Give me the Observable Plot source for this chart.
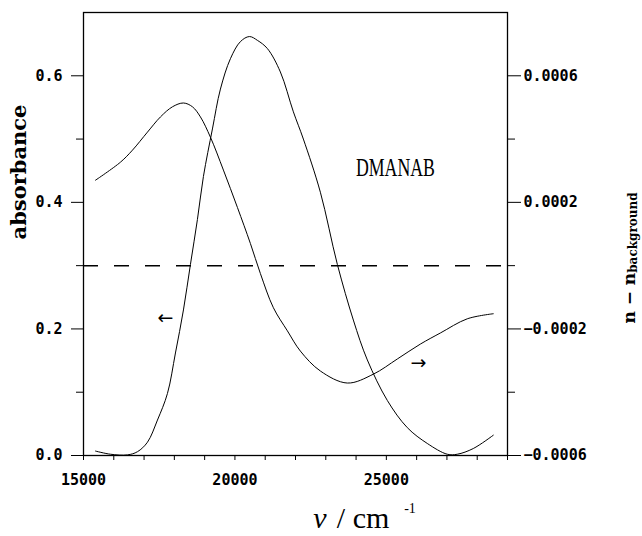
<!DOCTYPE html>
<html><head><meta charset="utf-8">
<script src="https://cdn.jsdelivr.net/npm/d3@7"></script>
<script src="https://cdn.jsdelivr.net/npm/@observablehq/plot@0.6"></script>
<style>body{margin:0;background:#fff;}</style>
</head><body><div id="chart"></div>
<script>
// absorbance spectrum (left axis)
const absWavenumber = [15396, 15891, 16452, 16782, 17112, 17442, 17772, 18036, 18300, 18531, 18762, 18960, 19257, 19521, 19851, 20181, 20478, 20742, 21072, 21501, 21930, 22260, 22821, 23382, 23910, 24372, 25032, 25692, 26352, 27012, 27342, 27870, 28530];
const absorbance = [0.007, 0.002, 0.001, 0.006, 0.021, 0.056, 0.098, 0.162, 0.230, 0.302, 0.373, 0.441, 0.516, 0.579, 0.627, 0.654, 0.662, 0.656, 0.643, 0.606, 0.543, 0.500, 0.416, 0.302, 0.214, 0.151, 0.087, 0.044, 0.019, 0.002, 0.002, 0.011, 0.032];
// n - n_background (right axis)
const nWavenumber = [15396, 16221, 16617, 17112, 17541, 17937, 18300, 18597, 18861, 19191, 19620, 20082, 20511, 20841, 21270, 21732, 22161, 22821, 23712, 24570, 25362, 26121, 26781, 27672, 28530];
const nDelta = [0.000270, 0.000327, 0.000365, 0.000422, 0.000470, 0.000502, 0.000514, 0.000502, 0.000470, 0.000406, 0.000302, 0.000184, 0.000070, -0.000025, -0.000133, -0.000206, -0.000270, -0.000333, -0.000371, -0.000343, -0.000295, -0.000248, -0.000213, -0.000168, -0.000152];
const nReference = [0];

const xTicks = [15000, 20000, 25000];
const xMinorTicks = [16000, 17000, 18000, 19000, 21000, 22000, 23000, 24000, 26000, 27000, 28000, 29000];
const leftTicks = [0, 0.2, 0.4, 0.6];
const leftMinorTicks = [0.1, 0.3, 0.5];
const rightTicks = [0.0006, 0.0002, -0.0002, -0.0006];
const rightMinorTicks = [0.0004, 0, -0.0004];

const labelNote = [{nu: 25300, a: 0.454, text: "DMANAB"}];
const arrowNotes = [{nu: 17706, a: 0.218, text: "←"}, {nu: 26056, a: 0.147, text: "→"}];

// right axis values mapped onto the absorbance scale (0.0004 per 0.2, zero at 0.3)
const toLeft = v => 0.3 + v * 500;
const fromLeft = a => (a - 0.3) / 500;

const absData = absWavenumber.map((nu, i) => ({nu, a: absorbance[i]}));
const nData = nWavenumber.map((nu, i) => ({nu, dn: nDelta[i]}));
const rf = d3.format(".4f");

const svg = Plot.plot({
  width: 642, height: 536,
  marginLeft: 83, marginRight: 135, marginTop: 12, marginBottom: 81,
  x: {domain: [15000, 29000]},
  y: {domain: [0, 0.7]},
  style: {fontFamily: "'DejaVu Sans Mono', monospace", fontSize: "15px", fontWeight: "bold", color: "black", background: "white"},
  marks: [
    Plot.axisX({ticks: xMinorTicks, tickSize: 5, tickFormat: () => "", label: null}),
    Plot.axisX({ticks: xTicks, tickSize: 5, tickPadding: 14, tickFormat: d => String(d), label: null}),
    Plot.axisY({ticks: leftMinorTicks, tickSize: 7, tickFormat: () => "", label: null}),
    Plot.axisY({ticks: leftTicks, tickSize: 12, tickPadding: 9, tickFormat: d3.format(".1f"), label: null}),
    Plot.axisY({anchor: "right", ticks: rightMinorTicks.map(toLeft), tickSize: 7, tickFormat: () => "", label: null}),
    Plot.axisY({anchor: "right", ticks: rightTicks.map(toLeft), tickSize: 13, tickPadding: 3, tickFormat: d => rf(fromLeft(d)), label: null}),
    Plot.frame({stroke: "black", strokeWidth: 1.3}),
    Plot.ruleY(nReference.map(toLeft), {stroke: "black", strokeWidth: 1.5, strokeDasharray: "15,16"}),
    Plot.line(absData, {x: "nu", y: "a", curve: "catmull-rom", stroke: "black", strokeWidth: 1}),
    Plot.line(nData, {x: "nu", y: d => toLeft(d.dn), curve: "catmull-rom", stroke: "black", strokeWidth: 1}),
    Plot.text(labelNote, {x: "nu", y: "a", text: "text", fontFamily: "'Liberation Serif', serif", fontWeight: "normal", fontSize: 25, className: "dmanab"}),
    Plot.text(arrowNotes, {x: "nu", y: "a", text: "text", fontFamily: "'DejaVu Sans', sans-serif", fontWeight: "normal", fontSize: 19})
  ]
});

const s = d3.select(svg);
s.selectAll(".dmanab text").attr("textLength", 79).attr("lengthAdjust", "spacingAndGlyphs");

// left axis label
s.append("text")
  .attr("transform", "translate(26,172) rotate(-90)")
  .attr("text-anchor", "middle")
  .style("font-family", "'DejaVu Serif', serif").style("font-weight", "bold").style("font-size", "21px")
  .text("absorbance");

// right axis label
const rl = s.append("text")
  .attr("transform", "translate(635,258) rotate(-90)")
  .attr("text-anchor", "middle")
  .style("font-family", "'DejaVu Serif', serif").style("font-weight", "bold").style("font-size", "17px");
rl.append("tspan").text("n − n");
rl.append("tspan").attr("dy", 2).style("font-size", "12px").text("background");

// x axis label
const xl = s.append("text")
  .attr("y", 528)
  .style("font-family", "'Liberation Serif', serif").style("font-weight", "normal").style("font-size", "30px");
xl.append("tspan").attr("x", 320).style("font-style", "italic").text("ν");
xl.append("tspan").attr("x", 341).text("/");
xl.append("tspan").attr("x", 371).text("cm");
xl.append("tspan").attr("x", 410).attr("dy", -15).style("font-size", "14px").text("-1");

document.getElementById("chart").appendChild(svg);
</script>
</body></html>
